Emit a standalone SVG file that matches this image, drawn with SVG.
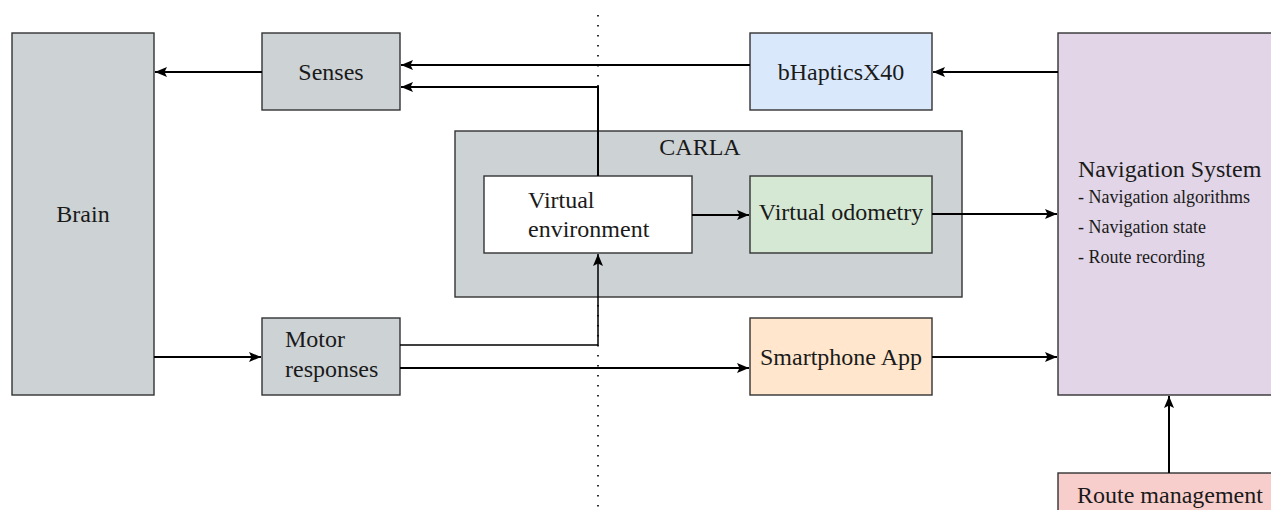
<svg xmlns="http://www.w3.org/2000/svg" width="1271" height="510" viewBox="0 0 1271 510">
<style>
.box{stroke:#333;stroke-width:1.4}
.gray{fill:#CDD2D5}
.t{font-family:"Liberation Serif","Times New Roman",serif;font-size:24px;fill:#1a1a1a}
.s{font-size:18px}
.c{stroke:#000;stroke-width:2;fill:none}
.thin{stroke-width:1.5}
</style>
<defs>
<marker id="ah" markerWidth="13" markerHeight="10" refX="12" refY="5" orient="auto" markerUnits="userSpaceOnUse">
<path d="M0,0 L12,5 L0,10 L2.5,5 z" fill="#000"/>
</marker>
</defs>
<rect width="1271" height="510" fill="#fff"/>
<line x1="598" y1="15" x2="598" y2="510" stroke="#000" stroke-width="1.6" stroke-dasharray="1.6,8.4"/>
<g id="brain"><rect class="box gray" x="12" y="33" width="142" height="362"/><text class="t" x="83" y="222" text-anchor="middle">Brain</text></g>
<g id="senses"><rect class="box gray" x="262" y="33" width="138" height="77"/><text class="t" x="331" y="80" text-anchor="middle">Senses</text></g>
<g id="bhaptics"><rect class="box" fill="#DAE8FC" x="750" y="33" width="182" height="77"/><text class="t" x="841" y="80" text-anchor="middle">bHapticsX40</text></g>
<g id="carla"><rect class="box gray" x="455" y="131" width="507" height="166"/><text class="t" x="700" y="155" text-anchor="middle">CARLA</text></g>
<g id="virtual-env"><rect class="box" fill="#fff" x="484" y="176" width="208" height="77"/><text class="t" x="528" y="208">Virtual</text><text class="t" x="528" y="237">environment</text></g>
<g id="virtual-odo"><rect class="box" fill="#D5E8D4" x="750" y="176" width="182" height="77"/><text class="t" x="841" y="220" text-anchor="middle">Virtual odometry</text></g>
<g id="nav"><rect class="box" fill="#E1D5E7" x="1058" y="33" width="230" height="362"/><text class="t" x="1078" y="177">Navigation System</text><text class="t s" x="1078" y="203">- Navigation algorithms</text><text class="t s" x="1078" y="233">- Navigation state</text><text class="t s" x="1078" y="263">- Route recording</text></g>
<g id="motor"><rect class="box gray" x="262" y="318" width="138" height="77"/><text class="t" x="285" y="347">Motor</text><text class="t" x="285" y="377">responses</text></g>
<g id="smartphone"><rect class="box" fill="#FFE6CC" x="750" y="318" width="182" height="77"/><text class="t" x="841" y="365" text-anchor="middle">Smartphone App</text></g>
<g id="route"><rect class="box" fill="#F8CECC" x="1058" y="473" width="230" height="60"/><text class="t" x="1077" y="503">Route management</text></g>
<g id="connectors">
<line class="c" x1="262" y1="72" x2="155" y2="72" marker-end="url(#ah)"/>
<line class="c" x1="750" y1="65" x2="401" y2="65" marker-end="url(#ah)"/>
<polyline class="c" points="598,176 598,87 401,87" marker-end="url(#ah)"/>
<line class="c" x1="1058" y1="72" x2="933" y2="72" marker-end="url(#ah)"/>
<line class="c" x1="692" y1="215" x2="749" y2="215" marker-end="url(#ah)"/>
<line class="c" x1="932" y1="214" x2="1057" y2="214" marker-end="url(#ah)"/>
<line class="c" x1="154" y1="357" x2="261" y2="357" marker-end="url(#ah)"/>
<polyline class="c thin" points="400,345 598,345 598,254" marker-end="url(#ah)"/>
<line class="c" x1="400" y1="368" x2="749" y2="368" marker-end="url(#ah)"/>
<line class="c" x1="932" y1="357" x2="1057" y2="357" marker-end="url(#ah)"/>
<line class="c" x1="1169" y1="473" x2="1169" y2="396" marker-end="url(#ah)"/>
</g>
</svg>
